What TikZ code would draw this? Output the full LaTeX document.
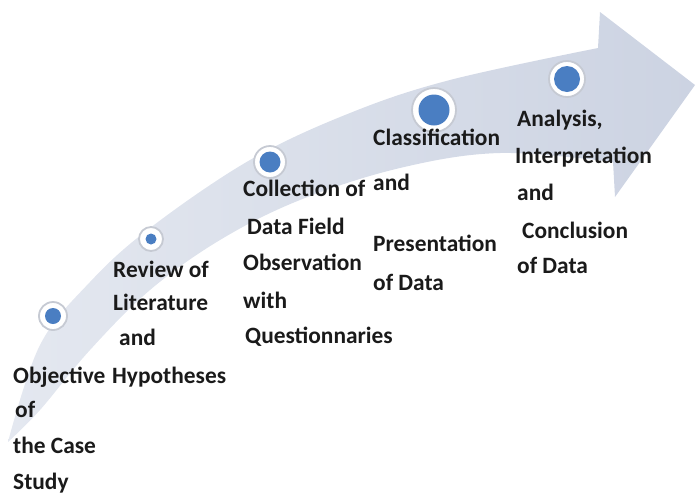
\documentclass[tikz,border=0pt]{standalone}
\usepackage{fontspec}
\setmainfont{Carlito}
\definecolor{bandL}{HTML}{E4E8F0}
\definecolor{bandR}{HTML}{CCD3E2}
\definecolor{dotblue}{HTML}{4A7EC2}
\definecolor{ringedge}{HTML}{C6CAD3}
\definecolor{txt}{HTML}{1A1A1A}
\tikzset{
  lbl/.style={anchor=base west, inner sep=0pt, text=txt, font=\fontsize{23.4}{27}\selectfont\bfseries},
  ring/.style={circle, fill=white, draw=ringedge, line width=1.8pt, inner sep=0pt},
  dot/.style={circle, fill=dotblue, inner sep=0pt}
}
\begin{document}
\begin{tikzpicture}[x=1pt,y=-1pt]
\useasboundingbox (0,0) rectangle (696,496);
% curved arrow band
\shade[left color=bandL, right color=bandR]
  plot[smooth, tension=0.6] coordinates {(8,442) (40,345) (90,282) (150,228) (250,160) (350,113) (450,80) (598,48)}
  -- (600,12) -- (695,85) -- (615,197) -- (613,162)
  -- plot[smooth, tension=0.6] coordinates {(613,162) (500,153) (400,168) (300,200) (220,240) (150,290) (90,350) (40,410) (8,442)}
  -- cycle;
% circles
\node[ring, minimum size=28pt] (r1) at (53,316) {};
\node[dot, minimum size=16pt] (d1) at (r1) {};
\node[ring, minimum size=24pt] (r2) at (151,239) {};
\node[dot, minimum size=11pt] (d2) at (r2) {};
\node[ring, minimum size=32pt] (r3) at (270,162) {};
\node[dot, minimum size=21pt] (d3) at (r3) {};
\node[ring, minimum size=44pt] (r4) at (434,110) {};
\node[dot, minimum size=31pt] (d4) at (r4) {};
\node[ring, minimum size=36pt] (r5) at (567,79) {};
\node[dot, minimum size=26pt] (d5) at (r5) {};
% texts
\node[lbl] (o1) at (13,383) {Objective};
\node[lbl] (o2) at (15,417) {of};
\node[lbl] (o3) at (13,453) {the Case};
\node[lbl] (o4) at (13,489) {Study};
\node[lbl] (v1) at (113,277) {Review of};
\node[lbl] (v2) at (113,310) {Literature};
\node[lbl] (v3) at (119,345) {and};
\node[lbl] (v4) at (112,383) {Hypotheses};
\node[lbl] (c1) at (243,196) {Collection of};
\node[lbl] (c2) at (247,234) {Data Field};
\node[lbl] (c3) at (243,270) {Observation};
\node[lbl] (c4) at (243,308) {with};
\node[lbl] (c5) at (245,343) {Questionnaries};
\node[lbl] (k1) at (373,145) {Classification};
\node[lbl] (k2) at (373,190) {and};
\node[lbl] (k3) at (373,251) {Presentation};
\node[lbl] (k4) at (373,290) {of Data};
\node[lbl] (a1) at (517,126) {Analysis,};
\node[lbl] (a2) at (515,163) {Interpretation};
\node[lbl] (a3) at (517,200) {and};
\node[lbl] (a4) at (522,238) {Conclusion};
\node[lbl] (a5) at (517,273) {of Data};
\end{tikzpicture}
\end{document}
